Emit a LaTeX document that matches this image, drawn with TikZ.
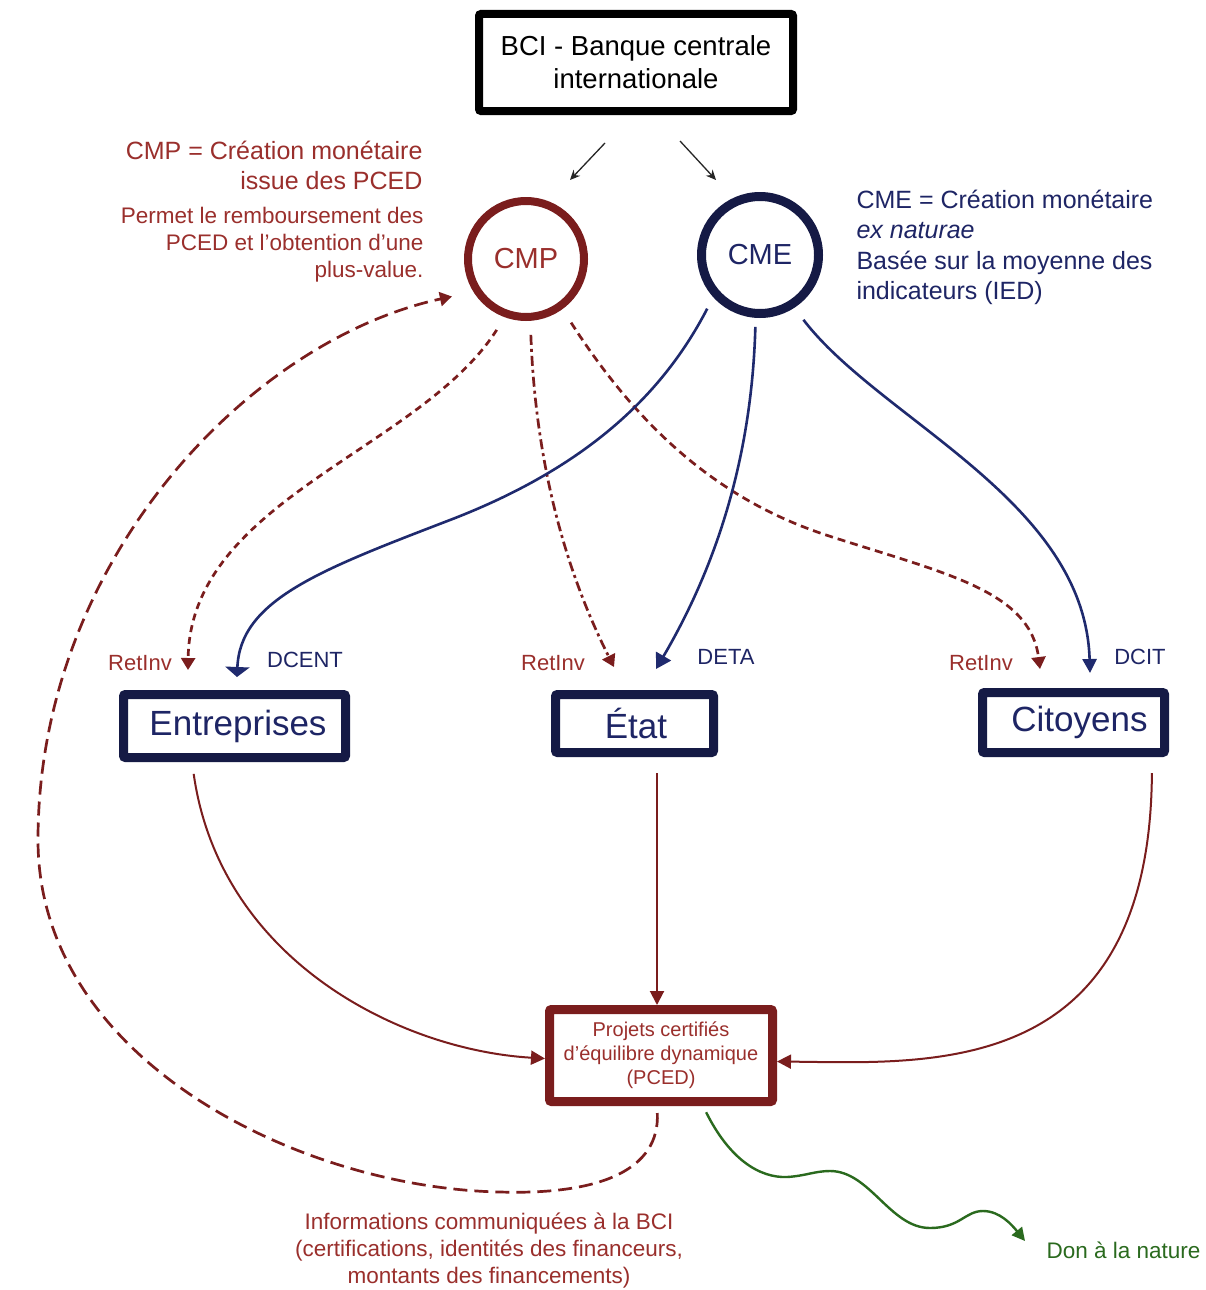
\documentclass[tikz,border=0pt]{standalone}
\usepackage{fontspec}
\setmainfont{Liberation Sans}
\usetikzlibrary{arrows.meta,calc}
\definecolor{dred}{HTML}{7A1D1D}
\definecolor{tred}{HTML}{9A2F2C}
\definecolor{navy}{HTML}{151A45}
\definecolor{tnavy}{HTML}{1E2565}
\definecolor{lblue}{HTML}{1F2A6E}
\definecolor{dgreen}{HTML}{2A6A1E}
\newcommand{\fsz}[2]{\fontsize{#1}{#2}\selectfont}
\begin{document}
\begin{tikzpicture}[x=1pt,y=-1pt,
  boxn/.style={draw=navy, line width=9pt, rounded corners=2pt, inner sep=0pt, text=tnavy, font=\fsz{35}{42}},
  circn/.style={circle, line width=8pt, inner sep=0pt, minimum size=116pt, font=\fsz{29}{34}},
  lblr/.style={text=tred, font=\fsz{22}{26}},
  lbln/.style={text=tnavy, font=\fsz{22}{26}},
  rdash/.style={draw=dred, line width=2.7pt, -{Triangle[length=12pt,width=14pt]}},
  rsolid/.style={draw=dred, line width=2pt, -{Triangle[length=14pt,width=14pt]}},
  bsolid/.style={draw=lblue, line width=2.6pt},
  barrow/.style={draw=black!85, line width=1.3pt, -{Stealth[length=10pt,width=9pt]}}
]
\path[use as bounding box, fill=white] (0,0) rectangle (1205,1290);

% main nodes
\node[draw=black, line width=8pt, rounded corners=2pt, minimum width=314pt, minimum height=97pt,
      align=center, font=\fsz{27.5}{33}] (bci) at (636,62.5) {BCI - Banque centrale\\internationale};
\node[circn, draw=dred, text=tred] (cmp) at (526,259) {CMP};
\node[circn, draw=navy, text=tnavy, minimum size=117pt, line width=9pt] (cme) at (760,255) {CME};
\node[boxn, minimum width=222pt, minimum height=63pt] (ent) at (234.5,726) {\hspace*{7pt}Entreprises};
\node[boxn, minimum width=158pt, minimum height=58pt] (etat) at (634.5,723.5) {\hspace*{3pt}État};
\node[boxn, minimum width=182pt, minimum height=60pt] (cit) at (1073.5,722.5) {\hspace*{12pt}Citoyens};
\node[draw=dred, line width=9pt, rounded corners=2pt, minimum width=223pt, minimum height=92pt,
      align=center, text=tred, font=\fsz{20}{24}] (pced) at (661,1055.5)
      {Projets certifiés\\d’équilibre dynamique\\(PCED)};

% text blocks
\node[anchor=east, align=right, text=tred, font=\fsz{25}{30}] (cmpdef) at (426,165)
  {CMP = Création monétaire\\issue des PCED};
\node[anchor=east, align=right, text=tred, font=\fsz{22.5}{27}] (cmpdesc) at (427,245)
  {Permet le remboursement des\\PCED et l’obtention d’une\\plus-value.};
\node[anchor=west, align=left, text=tnavy, font=\fsz{25}{30.3}] (cmedef) at (853,247.5)
  {CME = Création monétaire\\\textit{ex naturae}\\Basée sur la moyenne des\\indicateurs (IED)};
\node[lblr] (ri1) at (140,663) {RetInv};
\node[lbln] (dcent) at (305,660) {DCENT};
\node[lblr] (ri2) at (553,663) {RetInv};
\node[lbln] (deta) at (726,657) {DETA};
\node[lblr] (ri3) at (981,663) {RetInv};
\node[lbln] (dcit) at (1140,657) {DCIT};
\node[align=center, text=tred, font=\fsz{22.5}{27}] (info) at (489,1251)
  {Informations communiquées à la BCI\\(certifications, identités des financeurs,\\montants des financements)};
\node[anchor=west, text=dgreen, font=\fsz{22.5}{27}] (don) at (1043,1250) {Don à la nature};

% arrow end points
\coordinate (t1) at (188,670);
\coordinate (t2) at (614,667);
\coordinate (t3) at (1040,669);
\coordinate (t4) at (237,677);
\coordinate (t5) at (656,669);
\coordinate (t6) at (1090,673);
\coordinate (tg) at (1025,1241);
\coordinate (pn) at ([xshift=-4pt]pced.north);
\coordinate (ps) at ([xshift=-4pt]pced.south);
\coordinate (pg) at ([xshift=42pt]pced.south);

% BCI arrows
\draw[barrow] ($(bci.south)+(-31,28)$) -- ($(bci.south)+(-66,65)$);
\draw[barrow] ($(bci.south)+(44,26)$) -- ($(bci.south)+(80,65)$);

% CMP dashed arrows
\draw[rdash, dash pattern=on 7pt off 5pt, shorten <=15pt]
  (cmp.250) .. controls (420,450) and (190,500) .. (t1);
\draw[rdash, dash pattern=on 10pt off 4pt on 3pt off 4pt, shorten <=14pt]
  (cmp.274) .. controls (535,450) and (560,560) .. (t2);
\draw[rdash, dash pattern=on 8pt off 5pt, shorten <=16pt]
  (cmp.306) .. controls (640,430) and (720,500) .. (826,535)
  .. controls (943,573) and (1030,590) .. (t3);

% CME solid arrows
\draw[bsolid, -{Triangle[length=10pt,width=24pt]}, shorten <=13pt]
  (cme.222) .. controls (660,400) and (580,470) .. (450,520)
  .. controls (320,570) and (240,600) .. (t4);
\draw[bsolid, -{Triangle[length=15pt,width=17pt]}, shorten <=9pt]
  (cme.266) .. controls (752,450) and (720,560) .. (t5);
\draw[bsolid, -{Triangle[length=14pt,width=14pt]}, shorten <=15pt]
  (cme.303.5) .. controls (880,420) and (1085,500) .. (t6);

% to PCED
\draw[rsolid, shorten <=12pt]
  ([xshift=-42.5pt]ent.south) .. controls (220,960) and (400,1050) .. ([yshift=-3pt]pced.west);
\draw[rsolid, shorten <=16pt] (pn |- etat.south) -- (pn);
\draw[rsolid, shorten <=16pt]
  ([xshift=78.5pt]cit.south) .. controls (1150,1080) and (930,1063) .. ([yshift=-6pt]pced.east);

% information loop back to CMP
\draw[rdash, dash pattern=on 14pt off 7pt, shorten <=7pt, shorten >=22pt]
  (ps) .. controls (660,1170) and (600,1195) .. (500,1192)
  .. controls (300,1188) and (38,1060) .. (38,840)
  .. controls (38,560) and (250,340) .. (cmp.212);

% gift to nature
\draw[draw=dgreen, line width=2.4pt, -{Triangle[length=13pt,width=13pt]}, shorten <=7pt]
  (pg) .. controls (730,1160) and (760,1178) .. (787,1177)
  .. controls (805,1176) and (815,1171) .. (830,1171)
  .. controls (870,1171) and (890,1228) .. (930,1228)
  .. controls (960,1228) and (965,1211) .. (983,1211)
  .. controls (1000,1211) and (1012,1225) .. (tg);
\end{tikzpicture}
\end{document}
